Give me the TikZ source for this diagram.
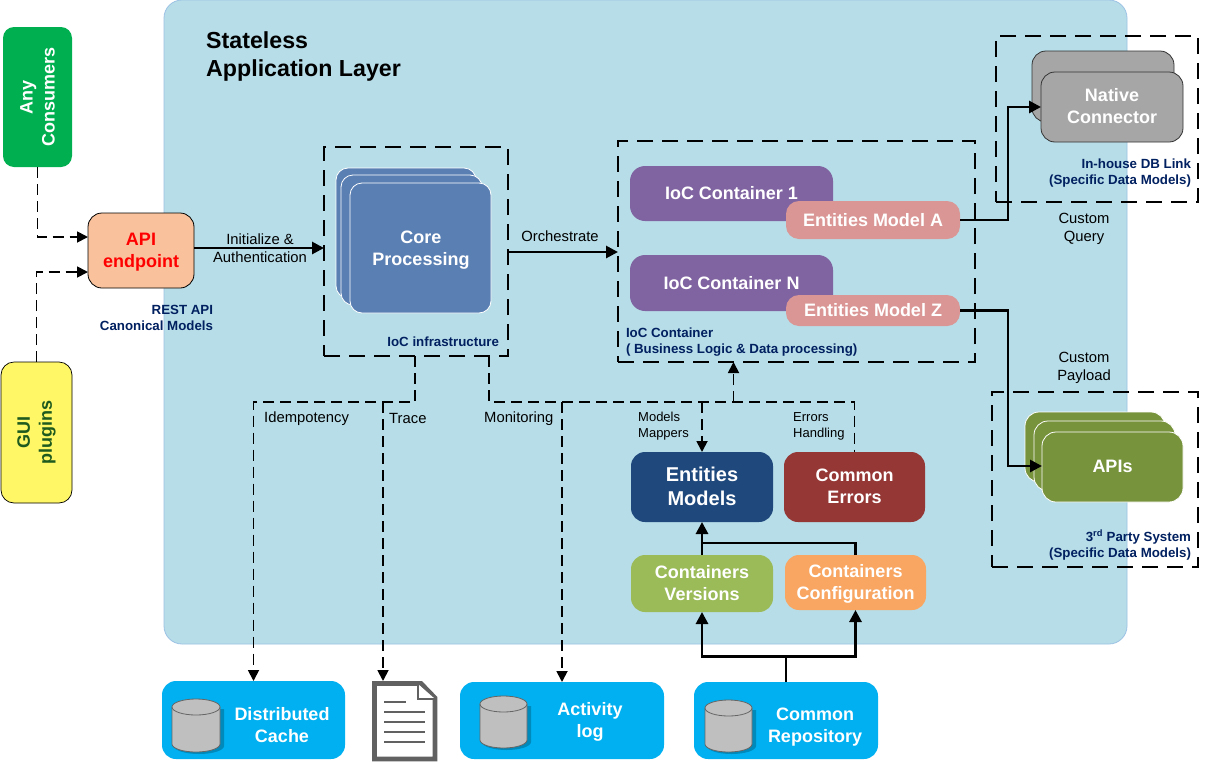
\documentclass[tikz,border=0pt]{standalone}
\usepackage{fontspec}
\setmainfont{Liberation Sans}
\usetikzlibrary{arrows.meta,calc}
\definecolor{panelfill}{HTML}{B7DDE8}
\definecolor{panelline}{HTML}{9CC2E5}
\definecolor{captionc}{HTML}{002060}
\definecolor{corec}{HTML}{5A7FB3}
\definecolor{purplec}{HTML}{8064A2}
\definecolor{pinkc}{HTML}{D99694}
\definecolor{greyc}{HTML}{A6A6A6}
\definecolor{apigreen}{HTML}{77933C}
\definecolor{navyc}{HTML}{1F497D}
\definecolor{brickc}{HTML}{953735}
\definecolor{lgreen}{HTML}{9BBB59}
\definecolor{orangec}{HTML}{F79646}
\definecolor{skyc}{HTML}{00B0F0}
\definecolor{consgreen}{HTML}{00B050}
\definecolor{apifill}{HTML}{F9C29C}
\definecolor{guitext}{HTML}{1E5A1E}
\newcommand{\fs}[2]{\fontsize{#1}{#2}\selectfont}
\tikzset{
  x=1pt,y=-1pt,
  boxed/.style={rectangle,rounded corners=#1,inner sep=0pt,outer sep=0pt,align=center,font=\bfseries\fs{18}{22},text=white},
  boxed/.default=12pt,
  px/.style n args={4}{minimum width=#3-#1,minimum height=#4-#2,at={({(#1+#3)/2},{(#2+#4)/2})}},
  frame/.style={draw=black,line width=2.8pt,dash pattern=on 16pt off 9pt,inner sep=0pt,outer sep=0pt,rectangle},
  caption/.style={font=\bfseries\fs{13.3}{16},text=captionc,inner sep=0pt,outer sep=0pt},
  lbl/.style={font=\fs{14.8}{18},text=black,inner sep=0pt,align=center},
  smalllbl/.style={font=\fs{13}{16},text=black,inner sep=0pt,align=left,anchor=west},
  solidw/.style={draw=black,line width=2.8pt,-{Triangle[length=12pt,width=12pt]}},
  plainw/.style={draw=black,line width=2.8pt},
  dashw/.style={draw=black,line width=1.8pt,dash pattern=on 11pt off 6pt,-{Triangle[length=11pt,width=11pt]}},
  dashp/.style={draw=black,line width=1.8pt,dash pattern=on 11pt off 6pt},
}
\newcommand{\dbcyl}[4]{% left top right bottom
  \fill[black,opacity=.22] (#1+2,#2+10) -- (#1+2,#4-6) arc[x radius=(#3-#1)/2+1,y radius=8,start angle=180,end angle=0] -- (#3+4,#2+10) -- cycle;
  \draw[draw=black!60,fill=black!25,line width=.8pt] (#1,#2+8) -- (#1,#4-8)
     arc[x radius=(#3-#1)/2,y radius=8,start angle=180,end angle=0] -- (#3,#2+8)
     arc[x radius=(#3-#1)/2,y radius=8,start angle=0,end angle=-180] -- cycle;
  \draw[draw=black!60,line width=.8pt] (#1,#2+8) arc[x radius=(#3-#1)/2,y radius=8,start angle=180,end angle=0];
}
\begin{document}
\begin{tikzpicture}
\useasboundingbox (0,0) rectangle (1205,766);
\fill[white] (0,0) rectangle (1205,766);
% main panel
\node[boxed=18pt,draw=panelline,fill=panelfill,line width=.8pt,px={164}{0}{1127}{644}] (panel) {};
\node[anchor=north west,inner sep=0pt,align=left,font=\bfseries\fs{23.2}{28},text=black] (title) at (206,31.5) {Stateless\\Application Layer};
% frames
\node[frame,px={324}{147}{508}{356}] (coreframe) {};
\node[frame,px={618}{141}{975}{362}] (iocframe) {};
\node[frame,px={996}{36}{1198}{202}] (nativeframe) {};
\node[frame,px={992}{392}{1198}{567}] (apiframe) {};
% consumers
\node[boxed=11pt,fill=consgreen,rotate=90,minimum width=140pt,minimum height=69pt,font=\bfseries\fs{18}{22}] (consumers) at (37.5,97) {Any\\Consumers};
\node[boxed=13pt,draw=black,line width=.7pt,fill=yellow!60,rotate=90,minimum width=141pt,minimum height=71pt,font=\bfseries\fs{18}{22},text=guitext] (gui) at (36.5,432.5) {GUI\\plugins};
\node[boxed=14pt,draw=black,line width=.8pt,fill=apifill,px={88}{213}{194}{288}] (api) {};
\node[boxed=0pt,text=red] (apit) at (141,252) {API\\endpoint};
% core
\node[boxed,draw=white,line width=.8pt,fill=corec,px={336}{168}{476}{298}] (core3) {};
\node[boxed,draw=white,line width=.8pt,fill=corec,px={341}{175}{482}{305}] (core2) {};
\node[boxed,draw=white,line width=.8pt,fill=corec,px={350}{183}{491}{313}] (core1) {};
\node[boxed=0pt] (core1t) at (421,250) {Core\\Processing};
% containers
\node[boxed=15pt,fill=purplec,px={630}{166}{833}{221}] (c1) {IoC Container 1};
\node[boxed=15pt,fill=purplec,px={630}{255}{833}{311}] (cn) {IoC Container N};
\node[boxed=13pt,fill=pinkc,px={786}{201}{960}{239}] (ema) {Entities Model A};
\node[boxed=13pt,fill=pinkc,px={786}{295}{960}{326}] (emz) {Entities Model Z};
% native
\node[boxed=14pt,draw=black!80,line width=.8pt,fill=greyc,px={1032}{51}{1174}{122}] (nat2) {};
\node[boxed=14pt,draw=black!80,line width=.8pt,fill=greyc,px={1041}{72}{1183}{142}] (nat1) {};
\node[boxed=0pt] (nat1t) at (1112,106) {Native\\Connector};
% apis
\node[boxed=14pt,draw=white,line width=.8pt,fill=apigreen,px={1025}{412}{1165}{482}] (api3) {};
\node[boxed=14pt,draw=white,line width=.8pt,fill=apigreen,px={1034}{421}{1175}{491}] (api2) {};
\node[boxed=14pt,draw=white,line width=.8pt,fill=apigreen,px={1042}{432}{1183}{502}] (api1) {\raisebox{1pt}{APIs}};
% centre column
\node[boxed=14pt,fill=navyc,px={631}{452}{773}{522},font=\bfseries\fs{20}{24}] (em) {\raisebox{1pt}{Entities}\\\raisebox{1pt}{Models}};
\node[boxed=14pt,fill=brickc,px={784}{452}{925}{522}] (ce) {\raisebox{1pt}{Common}\\\raisebox{1pt}{Errors}};
\node[boxed=14pt,fill=lgreen,px={631}{555}{773}{612}] (cv) {Containers\\Versions};
\node[boxed=14pt,fill=orangec!85!white,px={785}{555}{926}{610}] (cc) {};
\node[boxed=0pt] (cct) at (855.5,584) {Containers\\Configuration};
% bottom
\node[boxed=14pt,fill=skyc,px={162}{681}{345}{759}] (cache) {};
\node[boxed=14pt,fill=skyc,px={460}{682}{664}{759}] (activity) {};
\node[boxed=14pt,fill=skyc,px={694}{682}{878}{759}] (repo) {};
\dbcyl{172}{699}{220}{752}
\dbcyl{480}{696}{527}{748}
\dbcyl{705}{700}{752}{752}
\node[boxed=0pt,font=\bfseries\fs{18}{22}] (cachet) at (282,725) {Distributed\\Cache};
\node[boxed=0pt,font=\bfseries\fs{18}{22}] (activityt) at (590,722) {Activity\\log};
\node[boxed=0pt,font=\bfseries\fs{18}{22}] (repot) at (815,727) {Common\\Repository};
% document
\node[inner sep=0pt,outer sep=0pt,minimum width=65pt,minimum height=80pt] (doc) at (404.5,721) {};
\draw[draw=black!62,fill=white,line width=4.8pt,line join=miter] (374.5,683.5) -- (421,683.5) -- (435,698) -- (435,759) -- (374.5,759) -- cycle;
\draw[draw=black!62,fill=white,line width=2.5pt] (418,684) -- (418,699) -- (435,699);
\foreach \yy/\xx in {702/406,712/425,722/425,732/425,742/425}
  \draw[draw=black!62,line width=1.8pt] (384,\yy) -- (\xx,\yy);
% captions
\node[caption,anchor=east,align=right] (restc) at (213,318) {REST API\\Canonical Models};
\node[caption,anchor=east] (corec) at (499,342) {IoC infrastructure};
\node[caption,anchor=west,align=left] (iocc) at (626,342.5) {IoC Container\\( Business Logic \& Data processing)};
\node[caption,anchor=east,align=right] (natc) at (1191,173) {In-house DB Link\\(Specific Data Models)};
\node[caption,anchor=east,align=right] (apic) at (1191,545) {3\textsuperscript{rd} Party System\\(Specific Data Models)};
% labels
\node[lbl] (l1) at (260,248) {Initialize \&\\Authentication};
\node[lbl] (l2) at (560,236) {Orchestrate};
\node[lbl] (l3) at (1084,229) {Custom\\Query};
\node[lbl] (l4) at (1084,368) {Custom\\Payload};
\node[lbl,anchor=west] (l5) at (264,419) {Idempotency};
\node[lbl,anchor=west] (l6) at (389,418) {Trace};
\node[lbl,anchor=west] (l7) at (484,419) {Monitoring};
\node[smalllbl] (l8) at (638,426) {Models\\Mappers};
\node[smalllbl] (l9) at (793,426) {Errors\\Handling};
% helper coordinates
\coordinate (bendA) at (415,402);
\coordinate (bendB) at (489,402);
\coordinate (traceT) at (383,402);
\coordinate (iocup) at (733.5,402);
\coordinate (busrepo) at (786,656.5);
\coordinate (busconf) at (702,543);
\coordinate (wireN) at (1008,107);
\coordinate (wireA) at (1008,466);
% solid connectors
\draw[solidw] (api.east |- 0,248) -- (coreframe.west |- 0,248);
\draw[solidw] (coreframe.east |- 0,252) -- (iocframe.west |- 0,252);
\draw[solidw] (ema.east) -| (wireN) -- (nat1.west |- wireN);
\draw[solidw] (emz.east) -| (wireA) -- (api1.west |- wireA);
\draw[solidw] (cv.north) -- (em.south);
\draw[plainw] (cc.north) |- (busconf);
\draw[solidw] (repo.north |- busrepo) -| (cv.south);
\draw[solidw] (repo.north |- busrepo) -| (cc.south);
\draw[plainw] (repo.north) -- (busrepo);
% dashed connectors
\draw[dashw] (consumers.west) |- ([yshift=13.5pt]api.west);
\draw[dashw] (gui.east) |- ([yshift=-21.5pt]api.west);
\draw[dashw] (bendA |- coreframe.south) -- (bendA) -| (cache.north);
\draw[dashw] (traceT) -- (traceT |- doc.north);
\draw[dashw] (bendB |- coreframe.south) -- (bendB) -| (activity.north);
\draw[dashp] (activity.north |- bendB) -- (ce.north |- bendB) -- (ce.north);
\draw[dashw] (em.north |- bendB) -- (em.north);
\draw[dashw] (iocup) -- (iocup |- iocframe.south);
\end{tikzpicture}
\end{document}
